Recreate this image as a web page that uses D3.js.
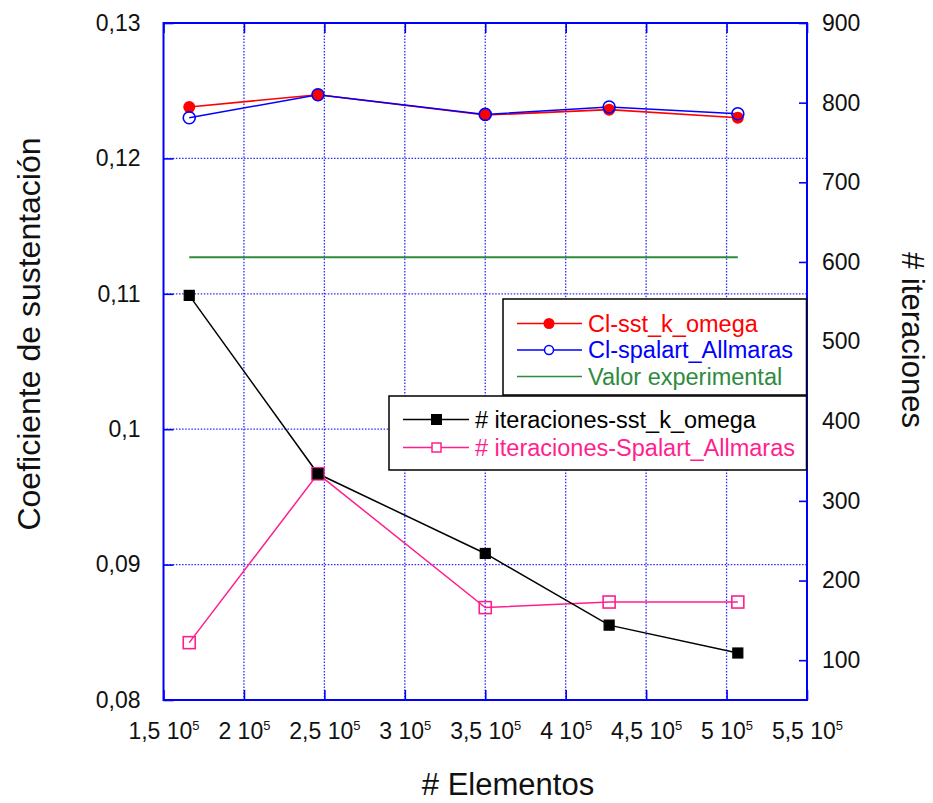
<!DOCTYPE html>
<html>
<head>
<meta charset="utf-8">
<script src="https://cdn.jsdelivr.net/npm/d3@7"></script>
<style>
  html, body { margin: 0; padding: 0; background: #fff; }
  svg { display: block; }
  text { font-family: "Liberation Sans", Arial, sans-serif; fill: #111; }
</style>
</head>
<body>
<svg id="chart" width="933" height="803"></svg>
<script>
// Number of mesh elements for each simulation
const elementos = [166000, 246000, 350000, 427000, 507000];
// Lift coefficient per turbulence model
const clSstKOmega = [0.1238, 0.1247, 0.1232, 0.1236, 0.1230];
const clSpalartAllmaras = [0.1230, 0.1247, 0.12325, 0.1238, 0.1233];
// Experimental reference value
const clExperimental = 0.1127;
// Iterations to convergence per turbulence model
const iterSstKOmega = [558, 334, 234, 144, 109];
const iterSpalartAllmaras = [122, 334, 166, 173, 173];

// Axis ticks
const xTicks = [150000, 200000, 250000, 300000, 350000, 400000, 450000, 500000, 550000];
const yLeftTicks = [0.08, 0.09, 0.10, 0.11, 0.12, 0.13];
const yRightTicks = [100, 200, 300, 400, 500, 600, 700, 800, 900];

// Legend labels
const legendCl = ["Cl-sst_k_omega", "Cl-spalart_Allmaras", "Valor experimental"];
const legendIter = ["# iteraciones-sst_k_omega", "# iteraciones-Spalart_Allmaras"];

const C = {
  red: "#ff0000",
  blue: "#0000ff",
  green: "#2e8b3e",
  black: "#000000",
  pink: "#ff1f8e",
  axis: "#0000ff",
  grid: "#2a2aff"
};

const svg = d3.select("#chart");
const plot = { left: 163.5, right: 807, top: 23, bottom: 700 };

const x = d3.scaleLinear().domain([150000, 550000]).range([plot.left, plot.right]);
const yL = d3.scaleLinear().domain([0.08, 0.13]).range([plot.bottom, plot.top]);
const yR = d3.scaleLinear().domain([50, 900]).range([plot.bottom, plot.top]);

const loc = d3.formatLocale({ decimal: ",", thousands: ".", grouping: [3], currency: ["", ""] });
const fmtLeft = loc.format(".2~f");
const fmtMant = loc.format("~f");

// Dotted grid
const grid = svg.append("g");
grid.selectAll("line.gx")
  .data(xTicks.filter(v => v > 150000 && v < 550000))
  .join("line")
  .attr("x1", d => x(d)).attr("x2", d => x(d))
  .attr("y1", plot.top).attr("y2", plot.bottom)
  .attr("stroke", C.grid).attr("stroke-width", 1.3)
  .attr("stroke-dasharray", "1.5 1.6");
grid.selectAll("line.gy")
  .data(yLeftTicks.filter(v => v > 0.08 && v < 0.13))
  .join("line")
  .attr("x1", plot.left).attr("x2", plot.right)
  .attr("y1", d => yL(d)).attr("y2", d => yL(d))
  .attr("stroke", C.grid).attr("stroke-width", 1.3)
  .attr("stroke-dasharray", "1.5 1.6");

// Axes with inward ticks
const tickLen = 10;
const fontTick = 23;

const axBottom = svg.append("g")
  .attr("transform", `translate(0,${plot.bottom})`)
  .call(d3.axisBottom(x).tickValues(xTicks).tickSizeInner(-tickLen).tickSizeOuter(0).tickPadding(26)
    .tickFormat(() => ""));
const axTop = svg.append("g")
  .attr("transform", `translate(0,${plot.top})`)
  .call(d3.axisTop(x).tickValues(xTicks).tickSizeInner(-tickLen).tickSizeOuter(0).tickFormat(() => ""));
const axLeft = svg.append("g")
  .attr("transform", `translate(${plot.left},0)`)
  .call(d3.axisLeft(yL).tickValues(yLeftTicks).tickSizeInner(-tickLen).tickSizeOuter(0).tickPadding(23)
    .tickFormat(fmtLeft));
const axRight = svg.append("g")
  .attr("transform", `translate(${plot.right},0)`)
  .call(d3.axisRight(yR).tickValues(yRightTicks).tickSizeInner(-8).tickSizeOuter(0).tickPadding(15)
    .tickFormat(d3.format("d")));

[axBottom, axTop, axLeft, axRight].forEach(g => {
  g.select(".domain").remove();
  g.selectAll(".tick line").attr("stroke", C.axis).attr("stroke-width", 1.6);
  g.selectAll(".tick text")
    .attr("font-size", fontTick)
    .attr("font-family", "'Liberation Sans', Arial, sans-serif")
    .attr("fill", "#111");
});

// Bottom tick labels as mantissa x 10^5
axBottom.selectAll(".tick text").each(function(d) {
  const t = d3.select(this);
  t.text(null).attr("text-anchor", "middle").attr("dy", "0.71em").attr("y", 23);
  t.append("tspan").text(fmtMant(d / 1e5) + " 10");
  t.append("tspan").text("5").attr("font-size", 13).attr("dy", "-0.75em");
});

// Plot frame
svg.append("rect")
  .attr("x", plot.left).attr("y", plot.top)
  .attr("width", plot.right - plot.left).attr("height", plot.bottom - plot.top)
  .attr("fill", "none").attr("stroke", C.axis).attr("stroke-width", 2);

// Series
const lineL = d3.line().x((d, i) => x(elementos[i])).y(d => yL(d));
const lineR = d3.line().x((d, i) => x(elementos[i])).y(d => yR(d));

// Experimental reference line across the simulated range
svg.append("line")
  .attr("x1", x(d3.min(elementos))).attr("x2", x(d3.max(elementos)))
  .attr("y1", yL(clExperimental)).attr("y2", yL(clExperimental))
  .attr("stroke", C.green).attr("stroke-width", 1.8);

// Iteration series (right axis)
svg.append("path").datum(iterSpalartAllmaras).attr("d", lineR)
  .attr("fill", "none").attr("stroke", C.pink).attr("stroke-width", 1.5);
svg.append("path").datum(iterSstKOmega).attr("d", lineR)
  .attr("fill", "none").attr("stroke", C.black).attr("stroke-width", 1.5);
svg.selectAll("rect.iterSA").data(iterSpalartAllmaras).join("rect")
  .attr("x", (d, i) => x(elementos[i]) - 6).attr("y", d => yR(d) - 6)
  .attr("width", 12).attr("height", 12)
  .attr("fill", "none").attr("stroke", C.pink).attr("stroke-width", 1.6);
svg.selectAll("rect.iterSST").data(iterSstKOmega).join("rect")
  .attr("x", (d, i) => x(elementos[i]) - 5).attr("y", d => yR(d) - 5)
  .attr("width", 10).attr("height", 10)
  .attr("fill", C.black).attr("stroke", C.black).attr("stroke-width", 1.2);

// Lift coefficient series (left axis)
svg.append("path").datum(clSstKOmega).attr("d", lineL)
  .attr("fill", "none").attr("stroke", C.red).attr("stroke-width", 1.6);
svg.append("path").datum(clSpalartAllmaras).attr("d", lineL)
  .attr("fill", "none").attr("stroke", C.blue).attr("stroke-width", 1.5);
svg.selectAll("circle.clSST").data(clSstKOmega).join("circle")
  .attr("cx", (d, i) => x(elementos[i])).attr("cy", d => yL(d)).attr("r", 6)
  .attr("fill", C.red);
svg.selectAll("circle.clSA").data(clSpalartAllmaras).join("circle")
  .attr("cx", (d, i) => x(elementos[i])).attr("cy", d => yL(d)).attr("r", 6)
  .attr("fill", "none").attr("stroke", C.blue).attr("stroke-width", 1.6);

// Legend: lift coefficient
const fontLegend = 23.5;
const lg1 = svg.append("g").attr("transform", "translate(503,299)");
lg1.append("rect").attr("width", 303.5).attr("height", 96)
  .attr("fill", "#fff").attr("stroke", "#000").attr("stroke-width", 1.5);
const lg1Colors = [C.red, C.blue, C.green];
lg1.selectAll("g.item").data(legendCl).join("g")
  .attr("transform", (d, i) => `translate(0,${24.5 + i * 26.5})`)
  .each(function(d, i) {
    const g = d3.select(this);
    g.append("line").attr("x1", 14).attr("x2", 79).attr("stroke", lg1Colors[i]).attr("stroke-width", 1.6);
    if (i === 0) g.append("circle").attr("cx", 46).attr("r", 5.5).attr("fill", C.red);
    if (i === 1) g.append("circle").attr("cx", 46).attr("r", 4.5).attr("fill", "#fff")
      .attr("stroke", C.blue).attr("stroke-width", 1.5);
    g.append("text").attr("x", 85).attr("dy", "0.36em").attr("font-size", fontLegend)
      .style("fill", lg1Colors[i]).text(d);
  });

// Legend: iterations
const lg2 = svg.append("g").attr("transform", "translate(389,396)");
lg2.append("rect").attr("width", 417.5).attr("height", 74)
  .attr("fill", "#fff").attr("stroke", "#000").attr("stroke-width", 1.5);
const lg2Colors = [C.black, C.pink];
lg2.selectAll("g.item").data(legendIter).join("g")
  .attr("transform", (d, i) => `translate(0,${23.5 + i * 28})`)
  .each(function(d, i) {
    const g = d3.select(this);
    g.append("line").attr("x1", 14).attr("x2", 80).attr("stroke", lg2Colors[i]).attr("stroke-width", 1.6);
    if (i === 0) g.append("rect").attr("x", 42).attr("y", -5.5).attr("width", 11).attr("height", 11)
      .attr("fill", C.black);
    if (i === 1) g.append("rect").attr("x", 43).attr("y", -4.5).attr("width", 9).attr("height", 9)
      .attr("fill", "#fff").attr("stroke", C.pink).attr("stroke-width", 1.5);
    g.append("text").attr("x", 86).attr("dy", "0.36em").attr("font-size", fontLegend)
      .style("fill", lg2Colors[i]).text(d);
  });

// Axis titles
const fontTitle = 31;
svg.append("text")
  .attr("x", 508).attr("y", 795)
  .attr("text-anchor", "middle").attr("font-size", fontTitle)
  .text("# Elementos");
svg.append("text")
  .attr("transform", "translate(40,334) rotate(-90)")
  .attr("text-anchor", "middle").attr("font-size", 32)
  .text("Coeficiente de sustentación");
svg.append("text")
  .attr("transform", "translate(902,340) rotate(90)")
  .attr("text-anchor", "middle").attr("font-size", fontTitle)
  .text("# iteraciones");
</script>
</body>
</html>
